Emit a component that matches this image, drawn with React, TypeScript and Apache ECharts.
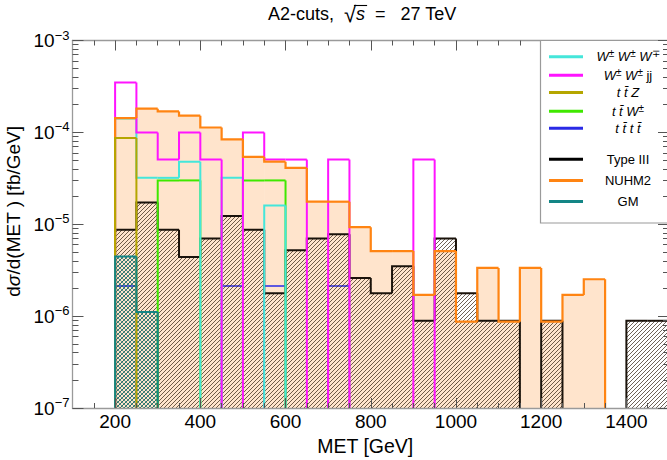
import React, { useEffect, useRef } from 'react';
import * as echarts from 'echarts';

const FONT = "'Liberation Sans', Arial, Helvetica, sans-serif";

// ---- bins (lower edges, GeV) ----
const binStart = [200, 250, 300, 350, 400, 450, 500, 550, 600, 650, 700, 750, 800, 850, 900, 950, 1000, 1050, 1100, 1150, 1200, 1250, 1300, 1350, 1400, 1450];
const BIN_WIDTH = 50;

// ---- series values (fb/GeV) per bin ----
const wwwValues = [1.42e-4, 3.2e-5, 3.2e-5, 4.8e-5, 0, 3.2e-5, 0, 1.6e-5, 0, 0, 0, 0, 0, 0, 0, 0, 0, 0, 0, 0, 0, 0, 0, 0, 0, 0];
const wwjjValues = [3.48e-4, 1.0e-4, 5.06e-5, 1.0e-4, 5.06e-5, 0, 1.0e-4, 5.06e-5, 5.06e-5, 0, 5.06e-5, 0, 0, 0, 5.06e-5, 0, 0, 0, 0, 0, 0, 0, 0, 0, 0, 0];
const ttzValues = [8.7e-5, 0, 0, 0, 0, 0, 0, 0, 0, 0, 0, 0, 0, 0, 0, 0, 0, 0, 0, 0, 0, 0, 0, 0, 0, 0];
const ttwValues = [0, 0, 3.0e-5, 3.0e-5, 0, 0, 3.0e-5, 3.0e-5, 0, 0, 0, 0, 0, 0, 0, 0, 0, 0, 0, 0, 0, 0, 0, 0, 0, 0];
const ttttValues = [2.13e-6, 0, 0, 0, 0, 2.13e-6, 0, 2.13e-6, 0, 0, 2.13e-6, 0, 0, 0, 0, 0, 0, 0, 0, 0, 0, 0, 0, 0, 0, 0];
const typeIIIValues = [8.7e-6, 1.73e-5, 8.7e-6, 4.4e-6, 7.0e-6, 1.23e-5, 8.7e-6, 1.77e-6, 5.2e-6, 7.0e-6, 7.8e-6, 2.6e-6, 1.77e-6, 3.5e-6, 8.9e-7, 7.0e-6, 1.77e-6, 8.9e-7, 8.9e-7, 0, 8.9e-7, 0, 0, 0, 8.9e-7, 8.9e-7];
const nuhm2Values = [1.43e-4, 1.81e-4, 1.69e-4, 1.52e-4, 1.13e-4, 8.4e-5, 5.4e-5, 4.8e-5, 4.1e-5, 1.76e-5, 1.76e-5, 9.3e-6, 5.1e-6, 5.1e-6, 1.7e-6, 5.1e-6, 8.7e-7, 3.35e-6, 8.7e-7, 3.35e-6, 8.7e-7, 1.7e-6, 2.52e-6, 0, 0, 0];
const gmValues = [4.47e-6, 1.11e-6, 0, 0, 0, 0, 0, 0, 0, 0, 0, 0, 0, 0, 0, 0, 0, 0, 0, 0, 0, 0, 0, 0, 0, 0];

// ---- ticks ----
const xMajorTicks = [200, 400, 600, 800, 1000, 1200, 1400];
const xMinorTicks = [150, 250, 300, 350, 450, 500, 550, 650, 700, 750, 850, 900, 950, 1050, 1100, 1150, 1250, 1300, 1350, 1450];
const yMajorTicks = [1e-7, 1e-6, 1e-5, 1e-4, 1e-3];
const yMinorFactors = [2, 3, 4, 5, 6, 7, 8, 9];
const yMinorTicks = [1e-7, 1e-6, 1e-5, 1e-4].flatMap((d) => yMinorFactors.map((k) => +(k * d).toPrecision(3)));

const Y_MIN = 1e-7;
const Y_MAX = 1e-3;

// title pieces
const TITLE_LEFT = 'A2-cuts,  ';
const TITLE_ROOT = '√';
const TITLE_S = 's';
const TITLE_RIGHT = '  =   27 TeV';

// legend labels (rich text)
const legendRich: Record<string, string> = {
  'W±W±W∓': '{i|W}{s|±}{n| }{i|W}{s|±}{n| }{i|W}{s|∓}',
  'W±W±jj': '{i|W}{s|±}{n| }{i|W}{s|±}{n| jj}',
  'tt̄Z': '{i|t t\u0304 Z}',
  'tt̄W±': '{i|t t\u0304 W}{s|±}',
  'tt̄tt̄': '{i|t t\u0304 t t\u0304}',
  'Type III': '{n|Type III}',
  'NUHM2': '{n|NUHM2}',
  'GM': '{n|GM}',
};

const COLORS = {
  www: '#45e6da',
  wwjj: '#ff14ff',
  ttz: '#b5a600',
  ttw: '#3fe800',
  tttt: '#2a2ae6',
  typeIII: '#1a120a',
  nuhm2: '#ff8412',
  gm: '#138585',
  peach: '#ffe4cc',
};

function hatchCanvas(rgba: number[], cross: boolean) {
  const size = 4;
  const c = document.createElement('canvas');
  c.width = size;
  c.height = size;
  const ctx = c.getContext('2d') as CanvasRenderingContext2D;
  const img = ctx.createImageData(size, size);
  for (let y = 0; y < size; y++) {
    for (let x = 0; x < size; x++) {
      const on = (x + y) % size === size - 1 || (cross && x === y);
      if (on) {
        const k = (y * size + x) * 4;
        img.data[k] = rgba[0];
        img.data[k + 1] = rgba[1];
        img.data[k + 2] = rgba[2];
        img.data[k + 3] = rgba[3];
      }
    }
  }
  ctx.putImageData(img, 0, 0);
  return c;
}

function measure(text: string, font: string) {
  const c = document.createElement('canvas');
  const ctx = c.getContext('2d') as CanvasRenderingContext2D;
  ctx.font = font;
  return ctx.measureText(text).width;
}

function binData(values: number[]) {
  return binStart.map((s, i) => [s, s + BIN_WIDTH, values[i], i > 0 ? values[i - 1] : 0]);
}

function histSeries(name: string, values: number[], z: number, opts: { fill?: any; stroke?: string; lineWidth?: number }) {
  return {
    type: 'custom',
    name,
    z,
    silent: true,
    coordinateSystem: 'cartesian2d',
    xAxisIndex: 0,
    yAxisIndex: 0,
    encode: { x: [0, 1], y: 2 },
    itemStyle: { color: opts.stroke || COLORS.peach },
    data: binData(values),
    renderItem: (params: any, api: any) => {
      const x0 = api.value(0);
      const x1 = api.value(1);
      const v = api.value(2);
      const vp = api.value(3);
      const top0 = api.coord([x0, Math.max(v, Y_MIN)]);
      const top1 = api.coord([x1, Math.max(v, Y_MIN)]);
      const bot = api.coord([x0, Y_MIN]);
      const prev = api.coord([x0, Math.max(vp, Y_MIN)]);
      const children: any[] = [];
      if (opts.fill && v > 0) {
        children.push({
          type: 'rect',
          shape: { x: top0[0], y: top0[1], width: top1[0] - top0[0] + 0.5, height: bot[1] - top0[1] },
          style: { fill: opts.fill },
        });
      }
      if (opts.stroke) {
        const pts: number[][] = [];
        if (vp !== v) pts.push([top0[0], prev[1]]);
        if (v > 0) {
          pts.push([top0[0], top0[1]]);
          pts.push([top1[0], top1[1]]);
        } else if (vp > 0) {
          pts.push([top0[0], bot[1]]);
        }
        if (pts.length >= 2) {
          children.push({
            type: 'polyline',
            shape: { points: pts },
            style: { stroke: opts.stroke, lineWidth: opts.lineWidth || 2, fill: 'none', lineJoin: 'miter' },
          });
        }
      }
      return { type: 'group', children };
    },
  };
}

const TICK_COLOR = '#555';
const FRAME_COLOR = '#9a9a9a';

function xAxisDef(position: 'top' | 'bottom', major: boolean, extra: any = {}) {
  return {
    type: 'value',
    min: 100,
    max: 1500,
    position,
    z: 30,
    axisLine: major ? { show: true, onZero: false, lineStyle: { color: FRAME_COLOR, width: 1.3 } } : { show: false },
    axisTick: {
      show: true,
      inside: true,
      length: major ? 10 : 5,
      customValues: major ? xMajorTicks : xMinorTicks,
      lineStyle: { color: TICK_COLOR, width: 1 },
    },
    axisLabel: { show: false },
    splitLine: { show: false },
    ...extra,
  };
}

function yAxisDef(position: 'left' | 'right', major: boolean, extra: any = {}) {
  return {
    type: 'log',
    logBase: 10,
    min: Y_MIN,
    max: Y_MAX,
    position,
    z: position === 'right' ? 70 : 30,
    axisLine: major ? { show: true, onZero: false, lineStyle: { color: FRAME_COLOR, width: 1.3 } } : { show: false },
    axisTick: {
      show: true,
      inside: true,
      length: major ? 11 : 6,
      customValues: major ? yMajorTicks : yMinorTicks,
      lineStyle: { color: TICK_COLOR, width: 1 },
    },
    axisLabel: { show: false },
    splitLine: { show: false },
    ...extra,
  };
}

export default function App() {
  const ref = useRef<HTMLDivElement>(null);

  useEffect(() => {
    document.body.style.margin = '0';
    const el = ref.current as HTMLDivElement;
    const chart = echarts.init(el, null, { renderer: 'svg' });

    const hatch = { image: hatchCanvas([45, 28, 12, 175], false), repeat: 'repeat' };
    const cross = { image: hatchCanvas([10, 115, 115, 170], true), repeat: 'repeat' };

    // title layout (left-aligned at the reference's left edge)
    const titleX = 268;
    const titleY = 14;
    const wLeft = measure(TITLE_LEFT, `18px ${FONT}`);
    const wRoot = measure(TITLE_ROOT, `22px ${FONT}`);
    const wS = measure(TITLE_S, `italic 18px ${FONT}`);
    const barX1 = titleX + wLeft + wRoot * 0.82;
    const barX2 = titleX + wLeft + wRoot + wS + 2;

    const legendTextStyle = {
      width: 80,
      fontFamily: FONT,
      fontSize: 13,
      color: '#000',
      rich: {
        n: { fontSize: 13, fontFamily: FONT, lineHeight: 16, align: 'center' },
        i: { fontSize: 13, fontFamily: FONT, fontStyle: 'italic', lineHeight: 16, align: 'center' },
        s: { fontSize: 10, fontFamily: FONT, verticalAlign: 'top', lineHeight: 11, align: 'center' },
      },
    };

    const legendCommon = {
      orient: 'vertical',
      left: 549,
      padding: 0,
      itemWidth: 34,
      itemHeight: 3,
      icon: 'rect',
      selectedMode: false,
      z: 60,
      formatter: (name: string) => legendRich[name] || name,
      textStyle: legendTextStyle,
    };

    const option: any = {
      animation: false,
      backgroundColor: '#fff',
      grid: { left: 72.5, right: -2, top: 40.5, bottom: 52, containLabel: false, outerBoundsMode: 'none' },
      xAxis: [
        xAxisDef('bottom', true, {
          axisLabel: {
            show: true,
            customValues: xMajorTicks,
            formatter: (v: number) => String(v),
            fontFamily: FONT,
            fontSize: 19,
            color: '#000',
            margin: 4,
          },
          name: 'MET [GeV]',
          nameLocation: 'middle',
          nameGap: 25,
          nameTextStyle: { fontFamily: FONT, fontSize: 19.5, color: '#000', padding: [0, 11, 0, 0] },
        }),
        xAxisDef('bottom', false),
        xAxisDef('top', true),
        xAxisDef('top', false),
      ],
      yAxis: [
        yAxisDef('left', true, {
          axisLabel: {
            show: true,
            customValues: yMajorTicks,
            margin: 3,
            formatter: (v: number) => {
              const e = Math.round(Math.log10(v));
              return `{b|10}{e|${e < 0 ? '−' : ''}${Math.abs(e)}}`;
            },
            rich: {
              b: { fontFamily: FONT, fontSize: 19, color: '#000', lineHeight: 24 },
              e: { fontFamily: FONT, fontSize: 13, color: '#000', verticalAlign: 'top', lineHeight: 14 },
            },
          },
          name: '{n|d}{i|σ}{n|/d(MET ) [fb/GeV]}',
          nameLocation: 'middle',
          nameRotate: 90,
          nameGap: 44,
          nameTextStyle: {
            fontFamily: FONT,
            fontSize: 19,
            color: '#000',
            padding: [0, 0, 0, 26],
            rich: {
              n: { fontFamily: FONT, fontSize: 19, color: '#000' },
              i: { fontFamily: FONT, fontSize: 19, fontStyle: 'italic', color: '#000' },
            },
          },
        }),
        yAxisDef('left', false),
        yAxisDef('right', true),
        yAxisDef('right', false),
      ],
      legend: [
        {
          ...legendCommon,
          top: 48.7,
          itemGap: 4.15,
          data: [
            { name: 'W±W±W∓', itemStyle: { color: COLORS.www } },
            { name: 'W±W±jj', itemStyle: { color: COLORS.wwjj } },
            { name: 'tt̄Z', itemStyle: { color: COLORS.ttz } },
            { name: 'tt̄W±', itemStyle: { color: COLORS.ttw } },
            { name: 'tt̄tt̄', itemStyle: { color: COLORS.tttt } },
          ],
        },
        {
          ...legendCommon,
          top: 152.7,
          itemGap: 8.2,
          data: [
            { name: 'Type III', itemStyle: { color: '#000' } },
            { name: 'NUHM2', itemStyle: { color: COLORS.nuhm2 } },
            { name: 'GM', itemStyle: { color: COLORS.gm } },
          ],
        },
      ],
      graphic: [
        {
          type: 'text',
          z: 80,
          x: titleX,
          y: titleY,
          style: {
            text: `{n|${TITLE_LEFT}}{r|${TITLE_ROOT}}{i|${TITLE_S}}{n|${TITLE_RIGHT}}`,
            align: 'left',
            verticalAlign: 'middle',
            fill: '#000',
            font: `18px ${FONT}`,
            rich: {
              n: { fontFamily: FONT, fontSize: 18, fill: '#000' },
              r: { fontFamily: FONT, fontSize: 22, fill: '#000' },
              i: { fontFamily: FONT, fontSize: 18, fontStyle: 'italic', fill: '#000' },
            },
          },
        },
        {
          type: 'line',
          z: 80,
          shape: { x1: barX1, y1: 5.5, x2: barX2, y2: 5.5 },
          style: { stroke: '#000', lineWidth: 1.1 },
        },
        {
          type: 'rect',
          z: 50,
          shape: { x: 540.5, y: 40.5, width: 140, height: 182.5 },
          style: { fill: '#fff', stroke: FRAME_COLOR, lineWidth: 1.2 },
        },
      ],
      series: [
        histSeries('NUHM2 fill', nuhm2Values, 2, { fill: COLORS.peach }),
        histSeries('tt̄tt̄', ttttValues, 3, { stroke: COLORS.tttt, lineWidth: 1.5 }),
        histSeries('Type III hatch', typeIIIValues, 4, { fill: hatch }),
        histSeries('GM hatch', gmValues, 5, { fill: cross }),
        histSeries('Type III', typeIIIValues, 6, { stroke: COLORS.typeIII, lineWidth: 2 }),
        histSeries('tt̄W±', ttwValues, 7, { stroke: COLORS.ttw, lineWidth: 2 }),
        histSeries('W±W±W∓', wwwValues, 8, { stroke: COLORS.www, lineWidth: 2 }),
        histSeries('W±W±jj', wwjjValues, 9, { stroke: COLORS.wwjj, lineWidth: 2 }),
        histSeries('NUHM2', nuhm2Values, 10, { stroke: COLORS.nuhm2, lineWidth: 2.2 }),
        histSeries('tt̄Z', ttzValues, 11, { stroke: COLORS.ttz, lineWidth: 2 }),
        histSeries('GM', gmValues, 12, { stroke: COLORS.gm, lineWidth: 2 }),
      ],
    };

    chart.setOption(option);
    return () => chart.dispose();
  }, []);

  return <div ref={ref} style={{ width: 667, height: 460, overflow: 'hidden' }} />;
}
